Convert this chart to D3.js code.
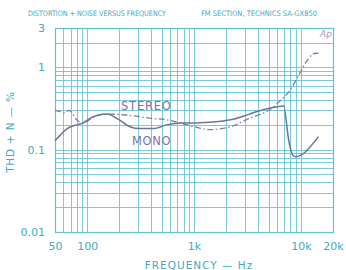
<!DOCTYPE html>
<html lang="en">
<head>
    <meta charset="UTF-8">
    <title>THD + N vs frequency</title>
    <script src="https://d3js.org/d3.v7.min.js"></script>
    <style>
        body { margin: 0; background: #fff; }
        svg { display: block; }
        text { font-family: "DejaVu Sans", sans-serif; }
    </style>
</head>
<body>
<script>
    // data (Hz, THD+N %)
    let monoFreq  = [50, 56, 65, 80, 91, 106, 124, 153, 190, 251, 313, 414, 560, 740, 1000, 1400, 2200, 3300, 3900, 5200, 6900, 7700, 8350, 8900, 14600];
    let monoThd   = [0.128, 0.15, 0.18, 0.2, 0.21, 0.24, 0.26, 0.27, 0.24, 0.19, 0.18, 0.18, 0.2, 0.21, 0.21, 0.215, 0.23, 0.27, 0.29, 0.32, 0.34, 0.13, 0.087, 0.082, 0.144];
    let stereoFreq = [50, 56, 62, 68, 80, 91, 110, 124, 153, 250, 400, 560, 740, 1000, 1400, 2200, 3300, 4500, 5200, 6500, 7700, 9800, 11400, 13000, 14600];
    let stereoThd  = [0.30, 0.29, 0.28, 0.30, 0.23, 0.21, 0.24, 0.26, 0.27, 0.26, 0.24, 0.23, 0.21, 0.19, 0.175, 0.19, 0.24, 0.28, 0.31, 0.40, 0.5, 0.85, 1.2, 1.45, 1.48];

    let xTickVals = [50, 100, 1000, 10000, 20000];
    let xTickText = ["50", "100", "1k", "10k", "20k"];
    let yTickVals = [3, 1, 0.1, 0.01];
    let yTickText = ["3", "1", "0.1", "0.01"];

    let width = 346, height = 270;
    let padding = { top: 28, bottom: 38, left: 55, right: 13 };

    let teal = "#45a9c2";
    let grid = "#62c2d2";

    let svg = d3.select("body").append("svg")
                .attr("width", width)
                .attr("height", height);

    let x = d3.scaleLog().domain([50, 20000]).range([padding.left, width - padding.right]);
    let y = d3.scaleLog().domain([0.01, 3]).range([height - padding.bottom, padding.top]);

    /* grid lines: 1-9 per decade */
    let vLines = [];
    [10, 100, 1000, 10000].forEach(d => {
        for (let k = 1; k < 10; k++) {
            let f = d * k;
            if (f >= 50 && f <= 20000) vLines.push(f);
        }
    });
    vLines.push(20000);
    let hLines = [];
    [0.01, 0.1, 1].forEach(d => {
        for (let k = 1; k < 10; k++) {
            let v = d * k;
            if (v <= 3.0001) hLines.push(v);
        }
    });

    let g = svg.append("g").attr("stroke", grid).attr("stroke-width", 1);
    g.selectAll(".v").data(vLines).enter().append("line")
        .attr("x1", d => Math.round(x(d)) + 0.5).attr("x2", d => Math.round(x(d)) + 0.5)
        .attr("y1", y(3)).attr("y2", y(0.01))
        .attr("stroke-opacity", 0.85);
    g.selectAll(".h").data(hLines).enter().append("line")
        .attr("y1", d => Math.round(y(d)) + 0.5).attr("y2", d => Math.round(y(d)) + 0.5)
        .attr("x1", x(50)).attr("x2", x(20000))
        .attr("stroke-opacity", 0.85);

    svg.append("rect")
        .attr("x", x(50) + 0.5).attr("y", y(3) + 0.5)
        .attr("width", x(20000) - x(50)).attr("height", y(0.01) - y(3))
        .attr("fill", "none").attr("stroke", grid).attr("stroke-width", 1.2);

    /* axes (labels only, the grid is the ticks) */
    let xAxis = d3.axisBottom(x).tickValues(xTickVals)
                  .tickFormat((d, i) => xTickText[i]).tickSize(0).tickPadding(10);
    let ax = svg.append("g").attr("transform", `translate(0, ${y(0.01)})`).call(xAxis);
    ax.select(".domain").remove();
    ax.selectAll("text").attr("fill", teal).attr("font-size", 11).attr("font-family", "DejaVu Sans");

    let yAxis = d3.axisLeft(y).tickValues(yTickVals)
                  .tickFormat((d, i) => yTickText[i]).tickSize(0).tickPadding(10);
    let ay = svg.append("g").attr("transform", `translate(${x(50)}, 0)`).call(yAxis);
    ay.select(".domain").remove();
    ay.selectAll("text").attr("fill", teal).attr("font-size", 11).attr("font-family", "DejaVu Sans");

    /* curves */
    let line = d3.line().x(d => x(d[0])).y(d => y(d[1])).curve(d3.curveCatmullRom.alpha(0.5));

    svg.append("path")
        .datum(stereoFreq.map((f, i) => [f, stereoThd[i]]))
        .attr("d", line)
        .attr("fill", "none").attr("stroke", "#8479a6").attr("stroke-width", 1.3)
        .attr("stroke-dasharray", "6,2.5,1.5,2.5");

    svg.append("path")
        .datum(monoFreq.map((f, i) => [f, monoThd[i]]))
        .attr("d", d3.line().x(d => x(d[0])).y(d => y(d[1])).curve(d3.curveMonotoneX))
        .attr("fill", "none").attr("stroke", "#67789a").attr("stroke-width", 1.5);

    svg.append("text").text("STEREO")
        .attr("x", 121).attr("y", 110)
        .attr("fill", "#7f6f9f").attr("font-size", 11.5).attr("letter-spacing", 0.8);
    svg.append("text").text("MONO")
        .attr("x", 132).attr("y", 144.5)
        .attr("fill", "#7f6f9f").attr("font-size", 11.5).attr("letter-spacing", 0.6);

    svg.append("text").text("Ap")
        .attr("x", 320).attr("y", 37)
        .attr("fill", "#a49ac0").attr("font-size", 9).attr("font-style", "italic");

    /* titles */
    svg.append("text").text("DISTORTION + NOISE VERSUS FREQUENCY")
        .attr("x", 28).attr("y", 16)
        .attr("textLength", 138).attr("lengthAdjust", "spacingAndGlyphs")
        .attr("fill", teal).attr("font-size", 7.5);
    svg.append("text").text("FM SECTION, TECHNICS SA-GX850")
        .attr("x", 201).attr("y", 16)
        .attr("textLength", 116).attr("lengthAdjust", "spacingAndGlyphs")
        .attr("fill", teal).attr("font-size", 7.5);

    svg.append("text").text("FREQUENCY — Hz")
        .attr("x", 199).attr("y", 269)
        .attr("text-anchor", "middle").attr("letter-spacing", 1)
        .attr("fill", teal).attr("font-size", 10.5);

    svg.append("text").text("THD + N — %")
        .attr("transform", "translate(14, 132) rotate(-90)")
        .attr("text-anchor", "middle").attr("letter-spacing", 0.8)
        .attr("fill", teal).attr("font-size", 10.5);
</script>
</body>
</html>
